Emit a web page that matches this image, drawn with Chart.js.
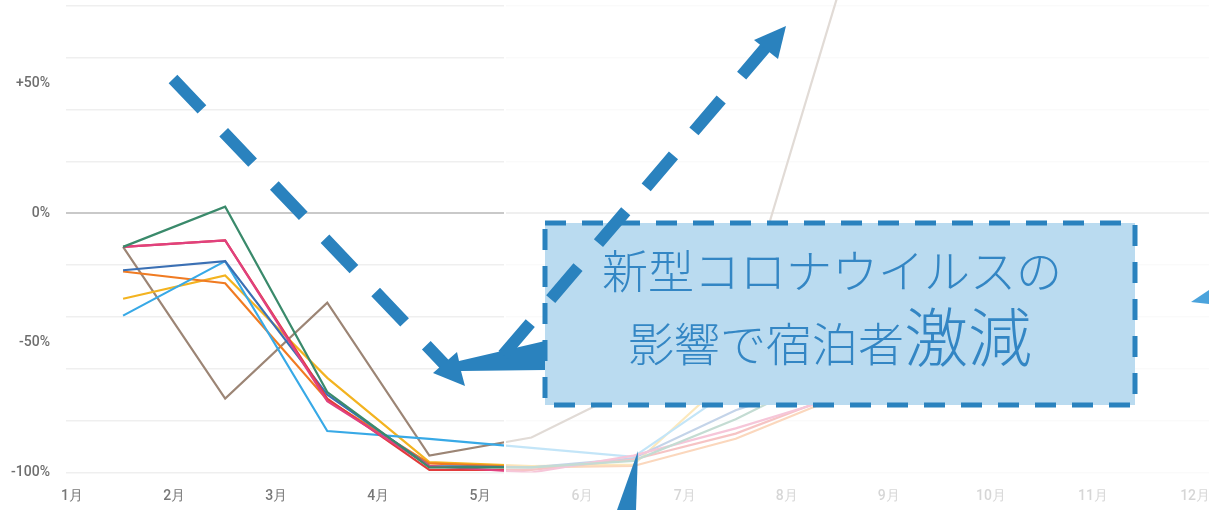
<!DOCTYPE html>
<html lang="ja">
<head>
<meta charset="utf-8">
<script src="https://cdn.jsdelivr.net/npm/chart.js@4/dist/chart.umd.min.js"></script>
<style>
  html,body{margin:0;padding:0;background:#fff;}
  #wrap{width:1209px;height:510px;position:relative;}
</style>
</head>
<body>
<div id="wrap"><canvas id="chart"></canvas></div>
<script>
// ---------- DATA ----------
const months = ['1月','2月','3月','4月','5月','6月','7月','8月','9月','10月','11月','12月'];
const xPoints = [1.5, 2.5, 3.5, 4.5, 5.5, 6.5, 7.5, 8.5];   // 月の中間
const yLabels = { '50':'+50%', '0':'0%', '-50':'-50%', '-100':'-100%' };
const yTicks  = [-100, -80, -60, -50, -40, -20, 0, 20, 40, 50, 60, 80];

const green  = [-13,   2.5, -69,   -98,   -98,   -95.5, -79.5, -60];
const pink   = [-13, -10.5, -72.5, -97.5, -100,  -93.5, -83,   -71];
const red    = [-13, -10.5, -71.5, -99,   -99,   -95,   -85,   -70];
const navy   = [-22, -18.5, -70,   -97.5, -98,   -94.5, -76,   -63];
const sky    = [-39.5, -18.5, -84, -87,   -90.5, -94,   -67,   -45];
const orange = [-22.5, -27, -72,   -96.5, -98,   -97.5, -87,   -71];
const yellow = [-33,  -24,  -63.5, -96,   -97.5, -97,   -61,   -40];
const brown  = [-13, -71.5, -34.5, -93.5, -86.5, -67,   -47,    84];

// ---------- UTIL ----------
const pts = arr => arr.map((v,i) => ({ x: xPoints[i], y: v }));
const line = (label, data, color) => ({
  label, data: pts(data), borderColor: color, backgroundColor: color,
  borderWidth: 2.2, pointRadius: 0, tension: 0, fill: false
});

const ARROW = '#2a82be';
const SEAM_X = 504;

function dashedLine(ctx, x1, y1, x2, y2){
  ctx.save();
  ctx.strokeStyle = ARROW;
  ctx.lineWidth = 12;
  ctx.lineCap = 'butt';
  ctx.setLineDash([42, 31.5]);
  ctx.beginPath(); ctx.moveTo(x1,y1); ctx.lineTo(x2,y2); ctx.stroke();
  ctx.restore();
}
function poly(ctx, p, color){
  ctx.save();
  ctx.fillStyle = color;
  ctx.beginPath();
  p.forEach(([x,y],i) => i ? ctx.lineTo(x,y) : ctx.moveTo(x,y));
  ctx.closePath(); ctx.fill();
  ctx.restore();
}

// 右半分は薄く (元画像の合成部分)
const fadePlugin = {
  id: 'fade',
  afterDatasetsDraw(chart){
    const { ctx, width, height } = chart;
    ctx.save();
    ctx.fillStyle = 'rgba(255,255,255,0.7)';
    ctx.fillRect(SEAM_X + 2, 0, width, height);
    ctx.fillStyle = '#fff';
    ctx.fillRect(SEAM_X, 0, 2, height);
    ctx.restore();
  }
};

// 注釈ボックスと矢印
const notePlugin = {
  id: 'note',
  afterDraw(chart){
    const ctx = chart.ctx;
    const bx = 545, by = 223, bw = 590, bh = 182;

    ctx.save();
    ctx.fillStyle = '#badbf0';
    ctx.fillRect(bx, by, bw, bh);
    ctx.strokeStyle = ARROW;
    ctx.lineWidth = 5;
    ctx.setLineDash([21, 16]);
    ctx.strokeRect(bx, by, bw, bh);
    ctx.setLineDash([]);

    ctx.fillStyle = '#3386c4';
    ctx.textBaseline = 'alphabetic';
    ctx.font = '300 46px "Noto Sans CJK JP", "Noto Sans", sans-serif';
    ctx.fillText('新型コロナウイルスの', 602, 288);
    const part1 = '影響で宿泊者';
    ctx.fillText(part1, 628, 361);
    const w1 = ctx.measureText(part1).width;
    ctx.font = '300 64px "Noto Sans CJK JP", "Noto Sans", sans-serif';
    ctx.fillText('激減', 628 + w1, 361);
    ctx.restore();

    // 左下へ向かう破線矢印
    dashedLine(ctx, 173, 79, 447, 367);
    // ボックスから左へ向かう矢印
    poly(ctx, [[545,341],[459,361],[457,352],[433,373],[465,386],[461,371],[545,370]], ARROW);
    // 右上へ向かう破線矢印
    dashedLine(ctx, 503, 355, 766, 47);
    poly(ctx, [[754,40],[786,26],[778,59]], ARROW);
    // 下からの矢印
    poly(ctx, [[638,451],[636,510],[617,510]], ARROW);
    // 右端の矢印の先
    poly(ctx, [[1191,302],[1209,290],[1209,304]], '#4ba3dc');
  }
};

new Chart(document.getElementById('chart'), {
  type: 'line',
  data: {
    datasets: [
      line('green',  green,  '#3a8a6b'),
      line('pink',   pink,   '#e0417f'),
      line('red',    red,    '#e23b3b'),
      line('navy',   navy,   '#3b70b4'),
      line('sky',    sky,    '#38a9e6'),
      line('orange', orange, '#f07b22'),
      line('yellow', yellow, '#f3b320'),
      line('brown',  brown,  '#9c8575')
    ]
  },
  options: {
    responsive: true,
    maintainAspectRatio: false,
    animation: false,
    layout: { padding: 0 },
    plugins: { legend: { display:false }, tooltip: { enabled:false } },
    scales: {
      x: {
        type: 'linear',
        min: 0.941, max: 12.136,
        afterBuildTicks: s => { s.ticks = months.map((_,i) => ({ value: i+1 })); },
        afterFit: s => { s.height = 37.5; s.paddingLeft = 0; s.paddingRight = 0; },
        grid: { display:false, drawTicks:false },
        border: { display:false },
        ticks: {
          padding: 16,
          color: '#777',
          font: { family:'Roboto', size:14, weight:'500' },
          maxRotation: 0,
          autoSkip: false,
          callback: v => months[Math.round(v)-1] || ''
        }
      },
      y: {
        min: -100, max: 82.2,
        afterBuildTicks: s => { s.ticks = yTicks.map(v => ({ value: v })); },
        afterFit: s => { s.width = 66; s.paddingTop = 0; s.paddingBottom = 0; },
        grid: {
          drawTicks: false,
          color: c => c.tick.value === 0 ? '#c9c9c9' : (c.tick.value % 20 === 0 ? '#efefef' : 'rgba(0,0,0,0)'),
          lineWidth: c => c.tick.value === 0 ? 2 : 1.5
        },
        border: { display:false },
        ticks: {
          padding: 16,
          color: '#6e6e6e',
          font: { family:'Roboto', size:14, weight:'500' },
          callback: v => yLabels[String(v)] || ''
        }
      }
    }
  },
  plugins: [fadePlugin, notePlugin]
});
</script>
</body>
</html>
